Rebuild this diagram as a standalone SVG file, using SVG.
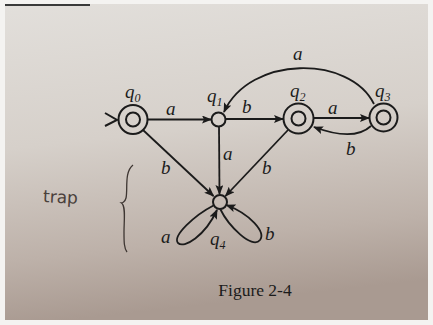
<svg xmlns="http://www.w3.org/2000/svg" width="433" height="325" viewBox="0 0 433 325">
<defs>
<linearGradient id="paper" x1="0" y1="0" x2="0.15" y2="1">
<stop offset="0" stop-color="#e2dfdb"/>
<stop offset="0.45" stop-color="#d6d0ca"/>
<stop offset="0.8" stop-color="#bdb1a9"/>
<stop offset="1" stop-color="#a99a91"/>
</linearGradient>
<marker id="ah" viewBox="0 0 10 8" refX="9" refY="4" markerWidth="10" markerHeight="8" markerUnits="userSpaceOnUse" orient="auto">
<path d="M0,0 L10,4 L0,8 L2,4 Z" fill="#1b1b1b"/>
</marker>
<style>
.st{fill:none;stroke:#1b1b1b;stroke-width:2}
.ed{fill:none;stroke:#1b1b1b;stroke-width:1.8;marker-end:url(#ah)}
.lb{font-family:"Liberation Serif",serif;font-style:italic;font-size:19px;fill:#1b1b1b}
.sb{font-family:"Liberation Serif",serif;font-size:12px;fill:#1b1b1b}
.cap{font-family:"Liberation Serif",serif;font-size:17.5px;fill:#1b1b1b}
.hand{font-family:"DejaVu Sans",sans-serif;font-size:17px;fill:#4a403b}
</style>
</defs>
<rect width="433" height="325" fill="#f4f3f1"/>
<rect x="5" y="4" width="423" height="316" fill="url(#paper)"/>
<rect x="5" y="4" width="85" height="2" fill="#3a3a3a"/>

<g id="connectors">
<path class="st" d="M105,113 L117,120 L105,126"/>
<path class="ed" d="M148,119.5 L211,119.5"/>
<path class="ed" d="M226,119 L283,119"/>
<path class="ed" d="M313.5,118 L369,118"/>
<path class="ed" d="M371,126 C358,138 338,136 314,127"/>
<path class="ed" d="M374,104 C350,55 250,55 224,112"/>
<path class="ed" d="M219,127 L219.5,194"/>
<path class="ed" d="M143,130 L213.5,196"/>
<path class="ed" d="M288,130 L225.5,196"/>
<path class="ed" d="M213.5,205.5 C195,215 172,236 178,243 C184,249 205,236 217,210"/>
<path class="ed" d="M220.5,209.5 C228,225 252,250 260,240 C266,232 250,214 226.5,205"/>
</g>

<g id="q0">
<circle class="st" cx="133" cy="119.5" r="14.5"/>
<circle class="st" cx="133" cy="119.5" r="7"/>
<text class="lb" x="125" y="98">q<tspan class="sb" dy="4">0</tspan></text>
</g>
<g id="q1">
<circle class="st" cx="218.5" cy="119.5" r="7"/>
<text class="lb" x="207" y="102">q<tspan class="sb" dy="4">1</tspan></text>
</g>
<g id="q2">
<circle class="st" cx="298.5" cy="118.5" r="15"/>
<circle class="st" cx="298.5" cy="118.5" r="7"/>
<text class="lb" x="290" y="97">q<tspan class="sb" dy="4">2</tspan></text>
</g>
<g id="q3">
<circle class="st" cx="383.5" cy="117.5" r="14"/>
<circle class="st" cx="383.5" cy="117.5" r="7"/>
<text class="lb" x="375" y="97">q<tspan class="sb" dy="4">3</tspan></text>
</g>
<g id="q4">
<circle class="st" cx="220" cy="202" r="7"/>
<text class="lb" x="210" y="245">q<tspan class="sb" dy="4">4</tspan></text>
</g>

<g id="labels">
<text class="lb" x="166" y="115">a</text>
<text class="lb" x="242" y="113">b</text>
<text class="lb" x="328" y="114">a</text>
<text class="lb" x="346" y="155">b</text>
<text class="lb" x="293" y="60">a</text>
<text class="lb" x="223" y="160">a</text>
<text class="lb" x="161" y="174">b</text>
<text class="lb" x="262" y="174">b</text>
<text class="lb" x="161" y="243">a</text>
<text class="lb" x="265" y="240">b</text>
</g>

<g id="annotation">
<text class="hand" x="43" y="203" transform="rotate(3 60 198)">trap</text>
<path d="M133,165 C124,172 128,190 126,198 C125,202 122,203 121.5,203 C126,206 124,220 124,232 C124,242 124,248 127,252" fill="none" stroke="#3e3632" stroke-width="1.3"/>
</g>

<text class="cap" x="255" y="296" text-anchor="middle">Figure 2-4</text>
</svg>
